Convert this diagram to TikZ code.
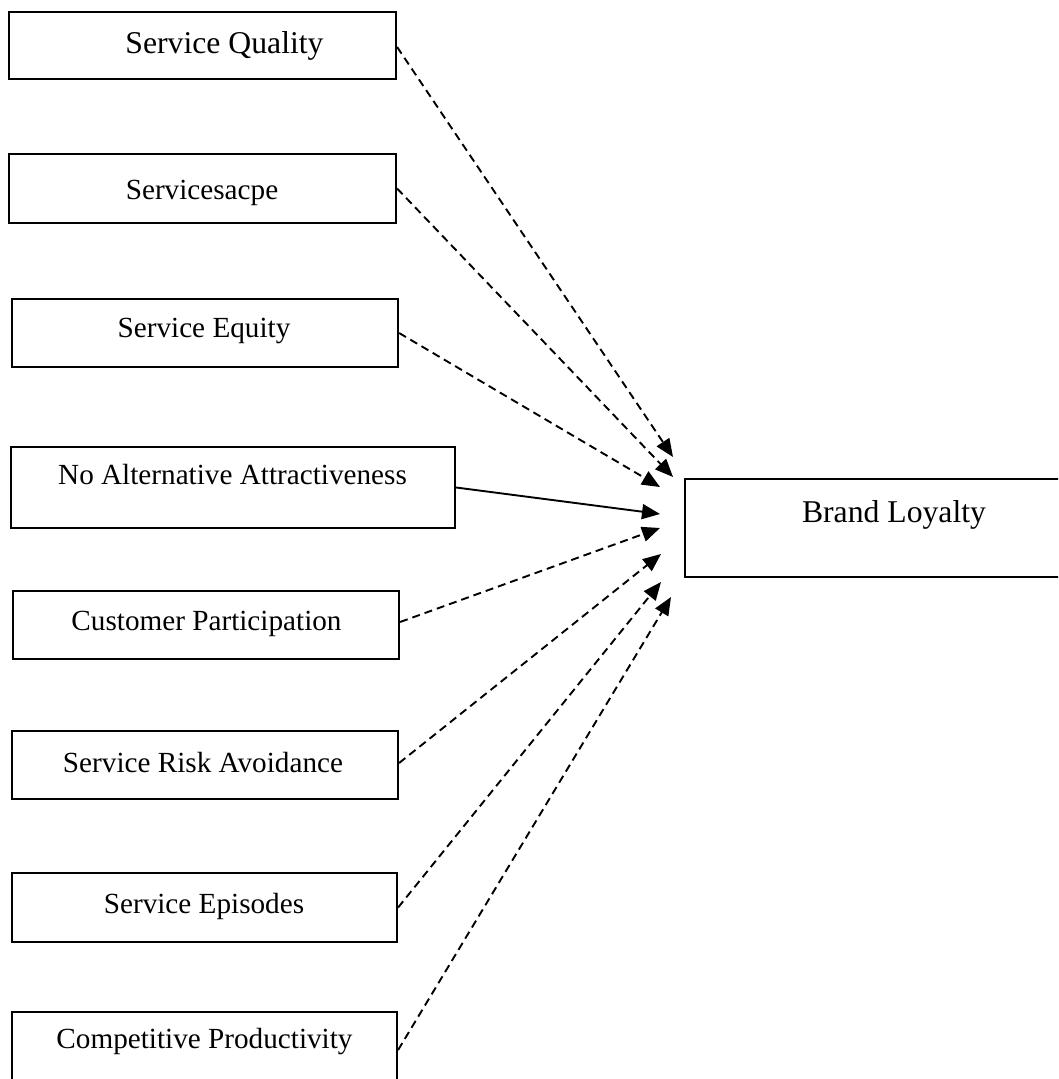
\documentclass[tikz,border=0pt]{standalone}
\usepackage{fontspec}
\setmainfont{Liberation Serif}
\usetikzlibrary{arrows.meta}
\tikzset{
  box/.style={draw, line width=2.2pt, inner sep=0pt, fill=white},
  lbl/.style={anchor=base, inner sep=0pt, font=\fontsize{29.2}{35}\selectfont},
  biglbl/.style={anchor=base, inner sep=0pt, font=\fontsize{31.7}{38}\selectfont},
  link/.style={line width=1.9pt, -{Triangle[length=18pt,width=15pt]}},
  dlink/.style={link, dash pattern=on 8pt off 5pt},
}
\begin{document}
\begin{tikzpicture}[x=1pt,y=-1pt]
\clip (0,0) rectangle (1058,1079);
\fill[white] (0,0) rectangle (1058,1079);
% boxes
\node[box, minimum width=387pt, minimum height=67pt] (b1) at (202.5,45.5) {};
\node[box, minimum width=387pt, minimum height=69pt] (b2) at (202.5,188.5) {};
\node[box, minimum width=386pt, minimum height=68pt] (b3) at (205,333) {};
\node[box, minimum width=444pt, minimum height=81pt] (b4) at (233,487.5) {};
\node[box, minimum width=386pt, minimum height=68pt] (b5) at (206,625) {};
\node[box, minimum width=386pt, minimum height=68pt] (b6) at (205,765) {};
\node[box, minimum width=385pt, minimum height=69pt] (b7) at (204.5,907.5) {};
\node[box, minimum width=385pt, minimum height=72pt] (b8) at (204.5,1048) {};
\node[box, minimum width=418pt, minimum height=98pt] (bl) at (894,528) {};
% texts
\node[biglbl] (t1) at (224.5,53) {Service Quality};
\node[lbl] (t2) at (202,199) {Servicesacpe};
\node[lbl] (t3) at (204,337) {Service Equity};
\node[lbl] (t4) at (232.5,484) {No Alternative Attractiveness};
\node[lbl] (t5) at (206.5,630) {Customer Participation};
\node[lbl] (t6) at (203,772) {Service Risk Avoidance};
\node[lbl] (t7) at (204,913) {Service Episodes};
\node[lbl] (t8) at (204.5,1048) {Competitive Productivity};
\node[biglbl] (tbl) at (894,522) {Brand Loyalty};
% arrow tips
\coordinate (p1) at (673,457);
\coordinate (p2) at (673,477);
\coordinate (p3) at (660,487);
\coordinate (p4) at (660,514);
\coordinate (p5) at (660,528);
\coordinate (p6) at (661,554);
\coordinate (p7) at (661,582);
\coordinate (p8) at (671,597);
% connectors
\draw[dlink] (b1.east) ++(0,1.5) -- (p1);
\draw[dlink] (b2.east) -- (p2);
\draw[dlink] (b3.east) -- (p3);
\draw[link] (b4.east) -- (p4);
\draw[dlink] (b5.east) ++(0,-3) -- (p5);
\draw[dlink] (b6.east) ++(0,-2) -- (p6);
\draw[dlink] (b7.east) -- (p7);
\draw[dlink] (b8.east) ++(0,2) -- (p8);
\end{tikzpicture}
\end{document}
